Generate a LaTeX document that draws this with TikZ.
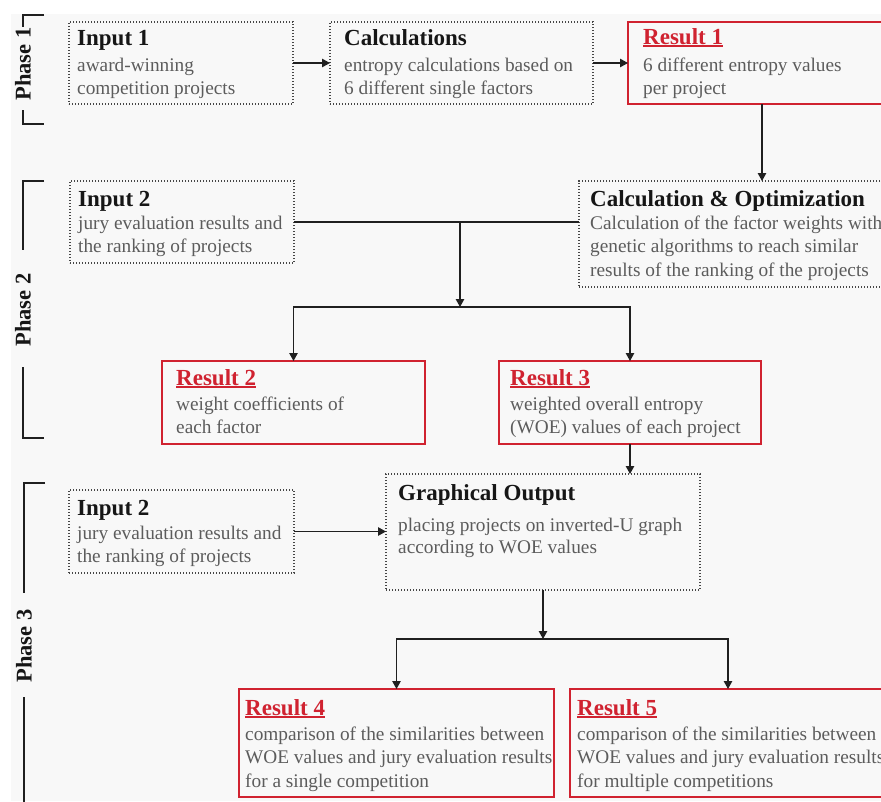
\documentclass[tikz,border=0pt]{standalone}
\usepackage{fontspec}
\setmainfont{Liberation Serif}
\usetikzlibrary{arrows.meta}

\definecolor{resred}{RGB}{208,34,48}
\definecolor{bodygray}{RGB}{92,92,92}
\definecolor{titleblack}{RGB}{22,22,22}
\definecolor{linegray}{RGB}{32,32,32}
\definecolor{dotgray}{RGB}{70,70,70}
\definecolor{paper}{RGB}{248,248,248}

% thick underline for the result headings
\newcommand\redul[1]{\sbox0{#1}\rlap{\rule[-3.2pt]{\wd0}{1.8pt}}\usebox0}

\begin{document}
\begin{tikzpicture}[x=1pt,y=-1pt,
  dotbox/.style={draw=dotgray, line width=1.1pt, dash pattern=on 1.1pt off 1.9pt,
    rectangle, anchor=north west, inner sep=0pt, outer sep=0pt},
  resbox/.style={draw=resred, line width=2.2pt, rectangle, anchor=north west,
    inner sep=0pt, outer sep=0pt},
  ttl/.style={anchor=base west, inner sep=0pt, text=titleblack,
    font=\fontsize{23}{27}\selectfont\bfseries},
  rttl/.style={ttl, text=resred},
  txt/.style={anchor=base west, inner sep=0pt, text=bodygray,
    font=\fontsize{19.3}{23}\selectfont},
  conn/.style={draw=linegray, line width=1.1pt},
  arr/.style={conn, -{Triangle[width=8.5pt,length=8pt]}},
  phase/.style={rotate=90, inner sep=0pt, text=titleblack,
    font=\fontsize{22.5}{26}\selectfont\bfseries},
  bracket/.style={draw=linegray, line width=2pt}
]
% page and paper background
\fill[white] (0,0) rectangle (881,801);
\useasboundingbox (0,0) rectangle (881,801);
\fill[paper] (11,14) rectangle (881,801);

% ---------------- phase labels and brackets ----------------
\node[phase] (ph1) at (23,64) {Phase 1};
\draw[bracket] (44,15) -- (23,15) -- (23,27);
\draw[bracket] (23,110) -- (23,124) -- (44,124);

\node[phase] (ph2) at (23,310) {Phase 2};
\draw[bracket] (44,181) -- (23,181) -- (23,250);
\draw[bracket] (23,367) -- (23,438) -- (44,438);

\node[phase] (ph3) at (24,646) {Phase 3};
\draw[bracket] (45,483) -- (24,483) -- (24,593);
\draw[bracket] (24,697) -- (24,805);

% ---------------- phase 1 ----------------
\node[dotbox, minimum width=224pt, minimum height=82pt] (in1) at (69,22) {};
\node[ttl] (in1-t) at ([shift={(8pt,-23pt)}]in1.north west) {Input 1};
\node[txt] (in1-a) at ([shift={(8pt,-49pt)}]in1.north west) {award-winning};
\node[txt] (in1-b) at ([shift={(8pt,-72pt)}]in1.north west) {competition projects};

\node[dotbox, minimum width=263pt, minimum height=82pt] (calc) at (330,22) {};
\node[ttl] (calc-t) at ([shift={(14pt,-23pt)}]calc.north west) {Calculations};
\node[txt] (calc-a) at ([shift={(14pt,-49pt)}]calc.north west) {entropy calculations based on};
\node[txt] (calc-b) at ([shift={(14pt,-72pt)}]calc.north west) {6 different single factors};

\node[resbox, minimum width=260pt, minimum height=82pt] (res1) at (628,22) {};
\node[rttl] (res1-t) at ([shift={(15pt,-22pt)}]res1.north west) {\redul{Result 1}};
\node[txt] (res1-a) at ([shift={(15pt,-49pt)}]res1.north west) {6 different entropy values};
\node[txt] (res1-b) at ([shift={(15pt,-72pt)}]res1.north west) {per project};

% ---------------- phase 2 ----------------
\node[dotbox, minimum width=306pt, minimum height=106pt] (opt) at (579,181) {};
\node[ttl] (opt-t) at ([shift={(11pt,-25pt)}]opt.north west) {Calculation \& Optimization};
\node[txt] (opt-a) at ([shift={(11pt,-48pt)}]opt.north west) {Calculation of the factor weights with};
\node[txt] (opt-b) at ([shift={(11pt,-71.5pt)}]opt.north west) {genetic algorithms to reach similar};
\node[txt] (opt-c) at ([shift={(11pt,-95pt)}]opt.north west) {results of the ranking of the projects};

\node[dotbox, minimum width=224pt, minimum height=82pt] (in2a) at (70,181) {};
\node[ttl] (in2a-t) at ([shift={(8pt,-25pt)}]in2a.north west) {Input 2};
\node[txt] (in2a-a) at ([shift={(8pt,-48pt)}]in2a.north west) {jury evaluation results and};
\node[txt] (in2a-b) at ([shift={(8pt,-71pt)}]in2a.north west) {the ranking of projects};

\node[resbox, minimum width=263pt, minimum height=83pt] (res2) at (162,361) {};
\node[rttl] (res2-t) at ([shift={(14pt,-24pt)}]res2.north west) {\redul{Result 2}};
\node[txt] (res2-a) at ([shift={(14pt,-49pt)}]res2.north west) {weight coefficients of};
\node[txt] (res2-b) at ([shift={(14pt,-72pt)}]res2.north west) {each factor};

\node[resbox, minimum width=262pt, minimum height=83pt] (res3) at (499,361) {};
\node[rttl] (res3-t) at ([shift={(11pt,-24pt)}]res3.north west) {\redul{Result 3}};
\node[txt] (res3-a) at ([shift={(11pt,-49pt)}]res3.north west) {weighted overall entropy};
\node[txt] (res3-b) at ([shift={(11pt,-72pt)}]res3.north west) {(WOE) values of each project};

% ---------------- phase 3 ----------------
\node[dotbox, minimum width=314pt, minimum height=116pt] (go) at (386,474) {};
\node[ttl] (go-t) at ([shift={(12pt,-26pt)}]go.north west) {Graphical Output};
\node[txt] (go-a) at ([shift={(12pt,-57pt)}]go.north west) {placing projects on inverted-U graph};
\node[txt] (go-b) at ([shift={(12pt,-79pt)}]go.north west) {according to WOE values};

\node[dotbox, minimum width=225pt, minimum height=83pt] (in2b) at (69,490) {};
\node[ttl] (in2b-t) at ([shift={(8pt,-25pt)}]in2b.north west) {Input 2};
\node[txt] (in2b-a) at ([shift={(8pt,-49pt)}]in2b.north west) {jury evaluation results and};
\node[txt] (in2b-b) at ([shift={(8pt,-72pt)}]in2b.north west) {the ranking of projects};

\node[resbox, minimum width=315pt, minimum height=108pt] (res4) at (239,689) {};
\node[rttl] (res4-t) at ([shift={(6pt,-26pt)}]res4.north west) {\redul{Result 4}};
\node[txt] (res4-a) at ([shift={(6pt,-51pt)}]res4.north west) {comparison of the similarities between};
\node[txt] (res4-b) at ([shift={(6pt,-74.5pt)}]res4.north west) {WOE values and jury evaluation results};
\node[txt] (res4-c) at ([shift={(6pt,-98pt)}]res4.north west) {for a single competition};

\node[resbox, minimum width=316pt, minimum height=108pt] (res5) at (570,689) {};
\node[rttl] (res5-t) at ([shift={(7pt,-26pt)}]res5.north west) {\redul{Result 5}};
\node[txt] (res5-a) at ([shift={(7pt,-51pt)}]res5.north west) {comparison of the similarities between};
\node[txt] (res5-b) at ([shift={(7pt,-74.5pt)}]res5.north west) {WOE values and jury evaluation results};
\node[txt] (res5-c) at ([shift={(7pt,-98pt)}]res5.north west) {for multiple competitions};

% ---------------- connectors ----------------
\draw[arr] (in1) -- (calc);
\draw[arr] (calc) -- (res1);
\draw[arr] ([xshift=134pt]res1.south west) coordinate (r1out) -- (r1out |- opt.north);

\draw[conn] (in2a.east) -- (in2a.east -| opt.west);
\coordinate (join1) at (460,222);
\coordinate (fork1) at (460,307);
\draw[arr] (join1) -- (fork1);
\draw[arr] (fork1) -| (res2.north);
\draw[arr] (fork1) -| (res3.north);

\draw[arr] (res3.south) -- (res3.south |- go.north);
\draw[arr] (in2b.east) -- (in2b.east -| go.west);
\coordinate (fork2) at (543,639);
\draw[arr] (go.south) -- (fork2);
\draw[arr] (fork2) -| (res4.north);
\draw[arr] (fork2) -| (res5.north);
\end{tikzpicture}
\end{document}
